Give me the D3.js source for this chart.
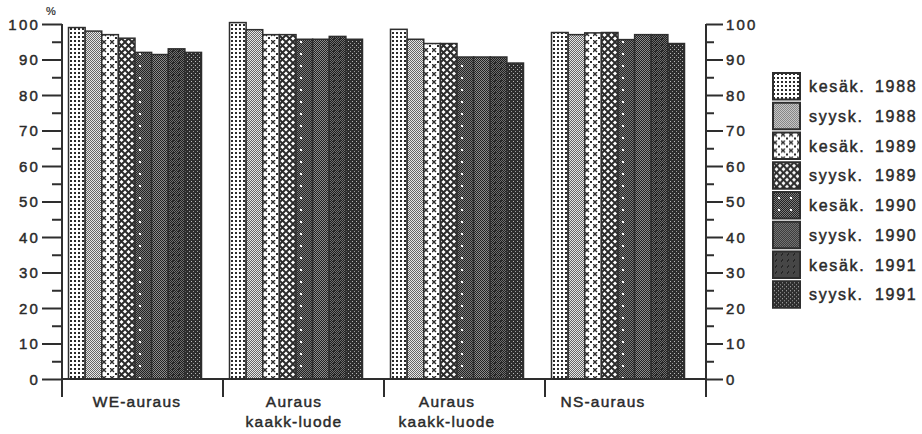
<!DOCTYPE html>
<html>
<head>
<meta charset="utf-8">
<script src="https://cdn.jsdelivr.net/npm/d3@7"></script>
<style>
  html, body { margin: 0; padding: 0; background: #fff; }
  svg { display: block; }
  text { font-family: "Liberation Sans", Arial, sans-serif; fill: #2a2a2a; stroke: #2a2a2a; stroke-width: 0.45px; }
</style>
</head>
<body>
<svg id="chart" width="922" height="434"></svg>
<script>
// ---- data ----
const categories = ["WE-auraus", "Auraus\nkaakk-luode", "Auraus\nkaakk-luode", "NS-auraus"];
const seriesNames = ["kesäk. 1988", "syysk. 1988", "kesäk. 1989", "syysk. 1989",
                     "kesäk. 1990", "syysk. 1990", "kesäk. 1991", "syysk. 1991"];
const kesak1988 = [99, 100.4, 98.5, 97.6];
const syysk1988 = [98, 98.4, 95.7, 97];
const kesak1989 = [97, 97, 94.5, 97.5];
const syysk1989 = [96, 97, 94.5, 97.6];
const kesak1990 = [92, 95.7, 90.7, 95.6];
const syysk1990 = [91.4, 95.7, 90.7, 97];
const kesak1991 = [93, 96.5, 90.7, 97];
const syysk1991 = [92, 95.7, 89, 94.5];
const seriesValues = [kesak1988, syysk1988, kesak1989, syysk1989, kesak1990, syysk1990, kesak1991, syysk1991];
const majorTicks = [0, 10, 20, 30, 40, 50, 60, 70, 80, 90, 100];
const minorTicks = [5, 15, 25, 35, 45, 55, 65, 75, 85, 95];
const unitLabel = "%";

// ---- layout ----
const svg = d3.select("#chart");
const X0 = 62, X1 = 706, Y0 = 379, Y100 = 24;
const ink = "#2e2e2e";

const x = d3.scaleBand().domain(d3.range(categories.length)).range([X0, X1]).paddingInner(0).paddingOuter(0);
const xs = d3.scaleBand().domain(d3.range(seriesNames.length)).range([6.5, 139.5]).padding(0);
const y = d3.scaleLinear().domain([0, 100]).range([Y0, Y100]);

// ---- patterns ----
const defs = svg.append("defs");
function pat(id, w, h, build) {
  const p = defs.append("pattern").attr("id", id).attr("patternUnits", "userSpaceOnUse")
    .attr("width", w).attr("height", h);
  build(p);
}
const D = "#2b2b2b";
function checker(p, n, dark, light) {
  p.append("rect").attr("width", n).attr("height", n).attr("fill", light);
  for (let i = 0; i < n; i++) for (let j = 0; j < n; j++)
    if ((i + j) % 2 === 0) p.append("rect").attr("x", i).attr("y", j).attr("width", 1).attr("height", 1).attr("fill", dark);
}
pat("p0", 4, 4, p => {
  p.append("rect").attr("width", 4).attr("height", 4).attr("fill", "#fff");
  p.append("rect").attr("x", 0).attr("y", 0).attr("width", 2).attr("height", 2).attr("fill", D);
});
pat("p1", 2, 2, p => checker(p, 2, "#666", "#e6e6e6"));
pat("p2", 8, 8, p => {
  p.append("rect").attr("width", 8).attr("height", 8).attr("fill", "#fff");
  p.append("path").attr("d", "M0,0L4,4M4,0L0,4").attr("stroke", D).attr("stroke-width", 1.4);
  p.append("rect").attr("x", 5).attr("y", 5).attr("width", 2).attr("height", 2).attr("fill", D);
});
pat("p3", 7, 7, p => {
  p.append("rect").attr("width", 7).attr("height", 7).attr("fill", "#fff");
  p.append("path").attr("d", "M-1,-1L8,8M8,-1L-1,8").attr("stroke", D).attr("stroke-width", 2);
});
pat("p4", 12, 12, p => {
  checker(p, 12, "#222", "#7a7a7a");
  p.append("rect").attr("x", 5).attr("y", 5).attr("width", 2).attr("height", 2).attr("fill", "#fff");
});
pat("p5", 2, 2, p => checker(p, 2, "#222", "#8c8c8c"));
pat("p6", 6, 6, p => {
  checker(p, 6, "#1e1e1e", "#6e6e6e");
  p.append("rect").attr("x", 2).attr("y", 2).attr("width", 2).attr("height", 2).attr("fill", "#2a2a2a");
});
pat("p7", 4, 4, p => {
  p.append("rect").attr("width", 4).attr("height", 4).attr("fill", "#2e2e2e");
  p.append("rect").attr("x", 1).attr("y", 1).attr("width", 1).attr("height", 1).attr("fill", "#bbb");
  p.append("rect").attr("x", 3).attr("y", 3).attr("width", 1).attr("height", 1).attr("fill", "#999");
});

// ---- bars ----
const groups = svg.append("g").selectAll("g").data(categories).join("g")
  .attr("transform", (d, i) => `translate(${x(i)},0)`);
groups.selectAll("rect").data((d, ci) => seriesValues.map((s, si) => ({ si, v: s[ci] })))
  .join("rect")
  .attr("x", d => xs(d.si))
  .attr("width", xs.bandwidth())
  .attr("y", d => y(d.v))
  .attr("height", d => y(0) - y(d.v))
  .attr("fill", d => `url(#p${d.si})`)
  .attr("stroke", ink).attr("stroke-width", 1.5);

// ---- axes ----
function styleAxis(g) {
  g.select(".domain").remove();
  g.selectAll("line").attr("stroke", ink).attr("stroke-width", 2);
  g.selectAll("text").style("font-size", "15px").style("letter-spacing", "2.2px").attr("fill", "#2a2a2a");
}
svg.append("g").attr("transform", `translate(${X0},0)`)
  .call(d3.axisLeft(y).tickValues(majorTicks).tickSize(20).tickPadding(2).tickFormat(d3.format("d")))
  .call(styleAxis).call(g => g.selectAll("text").attr("dy", "0.36em"));
svg.append("g").attr("transform", `translate(${X0},0)`)
  .call(d3.axisLeft(y).tickValues(minorTicks).tickSize(10).tickFormat(""))
  .call(styleAxis);
svg.append("g").attr("transform", `translate(${X1},0)`)
  .call(d3.axisRight(y).tickValues(majorTicks).tickSize(17).tickPadding(3).tickFormat(d3.format("d")))
  .call(styleAxis).call(g => g.selectAll("text").attr("dy", "0.36em"));
svg.append("g").attr("transform", `translate(${X1},0)`)
  .call(d3.axisRight(y).tickValues(minorTicks).tickSize(8).tickFormat(""))
  .call(styleAxis);

// vertical axis lines, baseline and category separators
const tickBottom = 397;
svg.append("line").attr("x1", X0).attr("x2", X0).attr("y1", Y100).attr("y2", tickBottom).attr("stroke", ink).attr("stroke-width", 2);
svg.append("line").attr("x1", X1).attr("x2", X1).attr("y1", Y100).attr("y2", tickBottom).attr("stroke", ink).attr("stroke-width", 2);
svg.append("line").attr("x1", X0).attr("x2", X1).attr("y1", Y0).attr("y2", Y0).attr("stroke", ink).attr("stroke-width", 2);
svg.append("g").selectAll("line").data(d3.range(1, categories.length)).join("line")
  .attr("x1", i => x(i)).attr("x2", i => x(i)).attr("y1", Y0).attr("y2", tickBottom)
  .attr("stroke", ink).attr("stroke-width", 2);

svg.append("text").attr("x", 46).attr("y", 15).style("font-size", "11px").style("stroke-width", "0.2px").text(unitLabel);

// category labels
const labelOffset = [75, 71, 63, 58];
svg.append("g").selectAll("text").data(categories).join("text")
  .attr("text-anchor", "middle")
  .attr("transform", (d, i) => `translate(${x(i) + labelOffset[i]},407)`)
  .style("font-size", "15.5px").style("letter-spacing", "1.2px")
  .each(function (d) {
    const t = d3.select(this);
    d.split("\n").forEach((line, k) => t.append("tspan").attr("x", 0).attr("y", k * 20).text(line));
  });

// ---- legend ----
const legend = svg.append("g").attr("transform", "translate(773,73)");
const li = legend.selectAll("g").data(seriesNames).join("g")
  .attr("transform", (d, i) => `translate(0,${i * 29.75})`);
li.append("rect").attr("width", 27).attr("height", 26.5)
  .attr("fill", (d, i) => `url(#p${i})`).attr("stroke", ink).attr("stroke-width", 2);
li.append("text").attr("y", 19).style("font-size", "16px").style("letter-spacing", "1.7px")
  .each(function (d) {
    const parts = d.split(" ");
    const t = d3.select(this);
    t.append("tspan").attr("x", 36).text(parts[0]);
    t.append("tspan").attr("x", 102).text(parts[1]);
  });
</script>
</body>
</html>
